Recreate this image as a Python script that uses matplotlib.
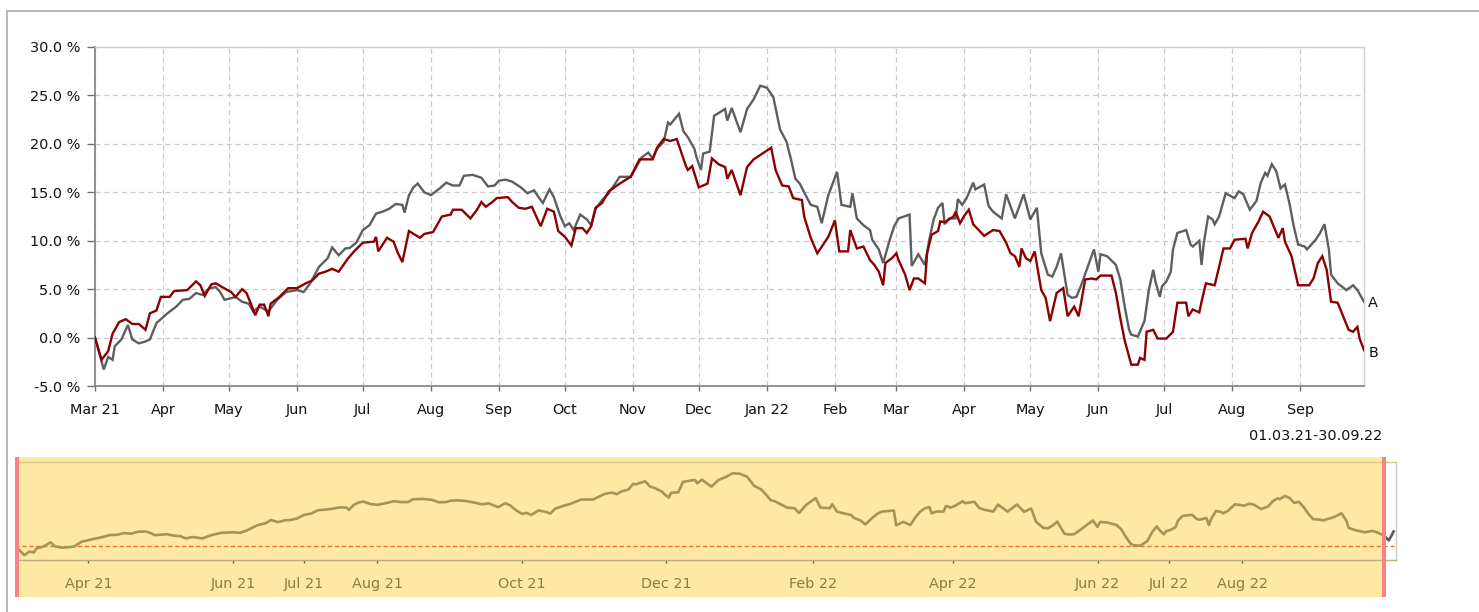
import matplotlib
matplotlib.use('Agg')
import matplotlib.pyplot as plt
import pandas as pd
from matplotlib.patches import Rectangle
from matplotlib.lines import Line2D

# ---------------- data ----------------
start_date = '2021-03-01'
end_date = '2022-09-30'
nav_end_date = '2022-10-05'

# series A (grey) : day offset from start_date, value in %
a_days = [0, 4, 6, 8, 9, 12, 15, 17, 20, 23, 25, 28, 33, 37, 40, 43, 46, 49, 52, 55, 57, 59, 61, 64, 67, 70, 72, 75, 79, 83,
          87, 92, 95, 98, 102, 106, 108, 111, 114,
          116, 119, 122, 125, 128, 131, 134, 137, 140, 141, 143, 145, 147, 150, 153, 157, 160, 163, 166, 168, 172, 176, 179,
          182, 184, 187, 190, 194, 197, 200, 202, 204, 207, 209, 212, 214, 216, 218, 221, 224, 226, 228, 231, 234,
          239, 244, 247, 249, 252, 254, 256, 259, 261, 262, 266, 268, 270, 273, 274, 276, 277, 280, 282, 287, 288, 290,
          294, 297, 300, 303, 306, 309, 312, 315, 317, 319, 321, 323, 326, 329, 331, 334, 338, 340, 344, 345, 347, 350, 353,
          354, 357, 359, 362, 364, 366, 371, 372, 375, 378, 380, 382, 384, 386, 387, 389, 392, 393, 395, 397, 400, 401,
          405, 407, 409, 413, 415, 418, 419, 423, 426, 429, 431, 434, 436, 438, 440, 443, 445, 447, 449, 452, 455, 457,
          458, 461, 465, 467, 469, 471,
          472, 475, 478, 480, 482, 483, 485, 486, 488, 490, 491, 493, 497, 499, 500, 503, 504, 505, 507, 509, 510, 512,
          515, 519, 521, 523, 526, 529, 531, 533, 534, 536, 538, 540, 542, 544, 546, 548, 551, 552, 556, 558, 560, 562,
          563, 566, 570, 573, 575, 578]
a_vals = [0.0, -3.3, -2.0, -2.3, -0.9, -0.2, 1.3, -0.2, -0.6, -0.4, -0.2, 1.5, 2.5, 3.2, 3.9, 4.0, 4.6, 4.4, 5.1, 5.2, 4.7,
          3.9, 4.0, 4.2, 3.7, 3.5, 2.7, 3.2, 2.7, 3.9,
          4.7, 4.9, 4.7, 5.6, 7.3, 8.2, 9.3, 8.5, 9.2,
          9.25, 9.8, 11.1, 11.6, 12.8, 13.0, 13.3, 13.8, 13.7, 12.9, 14.7, 15.5, 15.9, 15.0, 14.7, 15.4, 16.0, 15.7, 15.7,
          16.7, 16.8, 16.5, 15.6,
          15.7, 16.2, 16.3, 16.1, 15.5, 14.9, 15.2, 14.5, 13.9, 15.3, 14.5, 12.5, 11.5, 11.8, 11.1, 12.7, 12.2, 11.6, 13.3,
          14.2, 14.9,
          16.6, 16.6, 17.8, 18.6, 19.1, 18.5, 19.5, 20.2, 22.2, 22.0, 23.1, 21.3, 20.7, 19.5, 18.6, 17.3, 19.0, 19.2, 22.9,
          23.6, 22.4, 23.7,
          21.2, 23.6, 24.6, 26.0, 25.8, 24.8, 21.5, 20.2, 18.4, 16.4, 15.9, 15.0, 13.7, 13.5, 11.8, 14.7, 17.1, 13.7, 13.5,
          14.9, 12.3, 11.6, 11.1,
          10.1, 9.1, 7.7, 10.1, 11.5, 12.3, 12.7, 7.4, 8.6, 7.5, 10.1, 12.2, 13.4, 13.9, 11.7, 12.3, 12.3, 14.3, 13.7, 14.4,
          16.0, 15.3,
          15.8, 13.6, 13.0, 12.3, 14.8, 12.9, 12.3, 14.8, 12.2, 13.4, 8.7, 6.5, 6.3, 7.3, 8.7, 4.4, 4.1, 4.2, 5.3, 7.2, 9.1,
          6.8,
          8.6, 8.4, 7.5, 6.0, 3.2, 0.8,
          0.3, 0.1, 1.7, 4.9, 7.0, 5.8, 4.2, 5.3, 5.8, 6.8, 9.1, 10.8, 11.1, 9.6, 9.4, 10.0, 7.5, 9.7, 12.5, 12.2, 11.7, 12.5,
          14.9, 14.4, 15.1, 14.8, 13.2, 14.1, 16.0, 17.0, 16.7, 17.9, 17.2, 15.4, 15.8, 13.9, 11.5, 9.6, 9.4, 9.1, 10.1,
          10.8, 11.7, 9.1,
          6.5, 5.6, 4.9, 5.4, 4.9, 3.7]

# series B (dark red)
b_days = [0, 3, 6, 8, 11, 14, 17, 20, 23, 25, 28, 30, 34, 36, 42, 46, 48, 50, 53, 55, 58, 62, 64, 67, 69, 71, 73, 75, 77, 79,
          80, 84, 88, 92, 96, 99, 102, 105, 108, 111,
          115, 118, 122, 127, 128, 129, 133, 136, 138, 140, 143, 148, 150, 154, 158, 162, 163, 167, 171, 174, 176, 178,
          181, 183, 188, 190, 193, 196, 199, 201, 203, 206, 209, 211, 214, 217, 219, 222, 224, 226, 228, 231, 234,
          239, 244, 248, 254, 256, 259, 262, 265, 269, 270, 272, 275, 279, 281, 284, 287, 288, 290, 294, 297, 300, 304,
          308, 310, 313, 316, 318, 322, 323, 326, 329, 334, 337, 339, 343, 344, 347, 350, 353,
          355, 357, 359, 360, 363, 365, 366, 369, 371, 373, 375, 378, 379, 381, 384, 385, 387, 391, 392, 394, 396, 398,
          400, 405, 409, 412, 415, 417, 419, 421, 422, 424, 426, 428, 431, 433, 435, 438, 441, 443, 446, 448, 449, 451,
          454, 456, 458, 463, 465, 467, 469,
          472, 475, 476, 478, 479, 482, 484, 488, 491, 493, 497, 498, 500, 503, 504, 506, 510, 512, 514, 517, 519, 524,
          525, 527, 530, 532, 535, 539, 541, 542, 545, 548, 553, 555, 557, 559, 561, 563, 566, 571, 573, 575, 576, 578]
b_vals = [0.0, -2.3, -1.4, 0.4, 1.6, 1.9, 1.4, 1.4, 0.8, 2.5, 2.8, 4.2, 4.2, 4.8, 4.9, 5.8, 5.4, 4.3, 5.5, 5.6, 5.2, 4.7,
          4.2, 5.0, 4.6, 3.5, 2.3, 3.4, 3.4, 2.2,
          3.5, 4.2, 5.1, 5.1, 5.6, 5.9, 6.6, 6.8, 7.1, 6.8,
          8.1, 8.9, 9.8, 9.9, 10.4, 8.9, 10.3, 9.9, 8.7, 7.8, 11.0, 10.3, 10.7, 10.9, 12.5, 12.7, 13.2, 13.2, 12.3, 13.2,
          14.0, 13.5,
          14.0, 14.4, 14.5, 14.0, 13.4, 13.3, 13.5, 12.5, 11.5, 13.3, 13.0, 11.0, 10.4, 9.5, 11.3, 11.3, 10.8, 11.5, 13.4,
          13.9, 15.1,
          15.9, 16.6, 18.4, 18.4, 19.6, 20.5, 20.3, 20.5, 17.8, 17.3, 17.7, 15.5, 15.9, 18.5, 17.9, 17.6, 16.4, 17.3, 14.7,
          17.6, 18.4, 19.0,
          19.6, 17.3, 15.7, 15.6, 14.4, 14.2, 12.5, 10.3, 8.7, 10.4, 12.1, 8.9, 8.9, 11.1, 9.2, 9.4, 8.0,
          7.5, 6.8, 5.4, 7.7, 8.2, 8.7, 8.0, 6.5, 4.9, 6.1, 6.1, 5.6, 8.7, 10.6, 11.0, 12.0, 11.9, 12.5, 13.0, 11.8, 12.6,
          13.2,
          11.7, 10.5, 11.1, 11.0, 9.8, 8.7, 8.4, 7.3, 9.2, 8.2, 7.9, 8.9, 4.9, 4.1, 1.7, 4.6, 5.1, 2.2, 3.2, 2.2, 3.4, 6.0,
          6.1, 6.0, 6.4, 6.4, 4.6, 2.0, -0.3,
          -2.8, -2.8, -2.1, -2.3, 0.6, 0.8, -0.1, -0.1, 0.6, 3.6, 3.6, 2.2, 2.9, 2.6, 3.7, 5.6, 5.4, 7.3, 9.2, 9.2, 10.1,
          10.2,
          9.2, 10.8, 12.0, 13.0, 12.5, 10.3, 11.3, 9.9, 8.4, 5.4, 5.4, 6.1, 7.7, 8.4, 7.0, 3.7, 3.6, 0.8, 0.6, 1.1, -0.1,
          -1.3]

# navigator: series A continued a few days past the selected period
nav_ext_days = [580, 582]
nav_ext_vals = [2.0, 5.2]

series_names = ['A', 'B']
y_ticks = [-5, 0, 5, 10, 15, 20, 25, 30]
nav_tick_dates = ['2021-04-01', '2021-06-01', '2021-07-01', '2021-08-01', '2021-10-01', '2021-12-01',
                  '2022-02-01', '2022-04-01', '2022-06-01', '2022-07-01', '2022-08-01']
range_label = '01.03.21-30.09.22'

# ---------------- drawing ----------------
W, H = 1479, 612
plt.rcParams['font.family'] = ['DejaVu Sans']
FS = 10.4


def fx(px):
    return px / W


def fy(py):
    return 1 - py / H


start = pd.Timestamp(start_date)
end = pd.Timestamp(end_date)
a_dates = start + pd.to_timedelta(a_days, unit='D')
b_dates = start + pd.to_timedelta(b_days, unit='D')

fig = plt.figure(figsize=(W / 100, H / 100), dpi=100)

# outer frame of the widget
fig.add_artist(Line2D([fx(7), fx(7)], [fy(11), -0.05], transform=fig.transFigure, color='#b8b8b8', lw=1.4))
fig.add_artist(Line2D([fx(7), 1.05], [fy(11), fy(11)], transform=fig.transFigure, color='#b8b8b8', lw=1.4))

# ---- main chart ----
ax = fig.add_axes([fx(95), fy(386), (1364 - 95) / W, (386 - 47) / H])
ax.plot(a_dates, a_vals, color='#5e5e5e', lw=1.7, zorder=3, solid_joinstyle='miter')
ax.plot(b_dates, b_vals, color='#8b0000', lw=1.7, zorder=4, solid_joinstyle='miter')
ax.set_xlim(start, end)
ax.set_ylim(-5, 30)

month_ticks = pd.date_range(start, end, freq='MS')
ax.set_xticks(month_ticks)
xl = []
for i, d in enumerate(month_ticks):
    if i == 0 or d.month == 1:
        xl.append(d.strftime('%b %y'))
    else:
        xl.append(d.strftime('%b'))
ax.set_xticklabels(xl)
ax.set_yticks(y_ticks)
ax.set_yticklabels([f'{v:.1f} %' for v in y_ticks])
ax.tick_params(axis='y', direction='out', length=5.5, width=1, color='#707070', pad=5, labelsize=FS,
               labelcolor='#111111')
ax.tick_params(axis='x', direction='out', length=3.5, width=1, color='#707070', pad=9, labelsize=FS,
               labelcolor='#111111')
ax.grid(True, color='#c9c9c9', ls=(0, (4, 3)), lw=0.9)
ax.set_axisbelow(True)
for s in ['left', 'bottom']:
    ax.spines[s].set_color('#808080')
    ax.spines[s].set_linewidth(1.2)
for s in ['top', 'right']:
    ax.spines[s].set_color('#cccccc')
    ax.spines[s].set_linewidth(1.0)

ax.annotate(series_names[0], xy=(a_dates[-1], a_vals[-1]), xytext=(3, -1), textcoords='offset points',
            ha='left', va='center', fontsize=FS, color='#111111', annotation_clip=False)
ax.annotate(series_names[1], xy=(b_dates[-1], b_vals[-1]), xytext=(3, -2), textcoords='offset points',
            ha='left', va='center', fontsize=FS, color='#111111', annotation_clip=False)

fig.text(fx(1382), fy(436), range_label, ha='right', va='center', fontsize=FS, color='#111111')

# ---- navigator ----
fig.add_artist(Rectangle((fx(15), fy(597)), (1386 - 15) / W, (597 - 457) / H, transform=fig.transFigure,
                         facecolor='#fde9a1', edgecolor='none', zorder=-1))

nav = fig.add_axes([fx(15), fy(560), (1396 - 15) / W, (560 - 462) / H])
nav.set_facecolor('none')
nav.set_xlim(start, pd.Timestamp(nav_end_date))
nav.set_ylim(-5, 30)
nav.plot(a_dates, a_vals, color='#a39656', lw=1.9, zorder=3)
ext_dates = [a_dates[-1]] + list(start + pd.to_timedelta(nav_ext_days, unit='D'))
nav.plot(ext_dates, [a_vals[-1]] + nav_ext_vals, color='#5a5a5a', lw=1.9, zorder=3)
nav.axhline(0, color='#f4692f', lw=1.0, ls=(0, (3, 2)), zorder=2)
nav.set_xticks(pd.to_datetime(nav_tick_dates))
nav.set_xticklabels([pd.Timestamp(d).strftime('%b %y') for d in nav_tick_dates])
nav.set_yticks([])
nav.tick_params(axis='x', direction='out', length=2, width=1, color='#6e6130', pad=10, labelsize=FS,
                labelcolor='#8c7c42')
nav.spines['left'].set_visible(False)
nav.spines['top'].set_color('#d9c98e')
nav.spines['bottom'].set_color('#bcae7c')
nav.spines['right'].set_color('#c8c8c8')
for s in ['top', 'bottom', 'right']:
    nav.spines[s].set_linewidth(1.0)

# selection handles
for x0 in (15, 1382):
    fig.add_artist(Rectangle((fx(x0), fy(597)), 4 / W, (597 - 457) / H, transform=fig.transFigure,
                             facecolor='#f88282', edgecolor='none', zorder=5))

fig.savefig('out.png', dpi=100)
